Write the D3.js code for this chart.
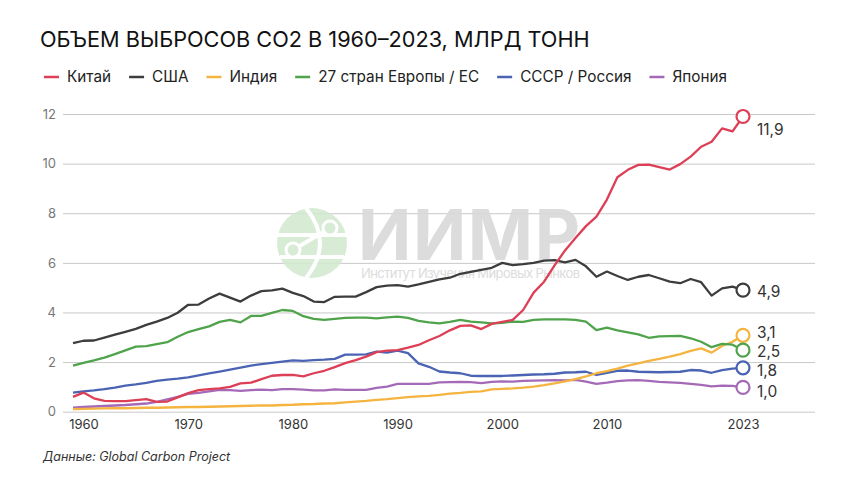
<!DOCTYPE html>
<html><head><meta charset="utf-8">
<script src="https://cdn.jsdelivr.net/npm/d3@7"></script>
<style>
html,body{margin:0;padding:0;background:#fff;}
svg{display:block;font-family:Inter,"Noto Sans",sans-serif;}
</style></head>
<body>
<svg id="chart" width="860" height="484"></svg>
<script>
const startYear = 1959;
const endYear = 2023;
const seriesNames = ["Китай","США","Индия","27 стран Европы / ЕС","СССР / Россия","Япония"];
const seriesColors = ["#dc3f56","#3d3d3d","#f5b43f","#4fa34b","#4a63b3","#a56ab7"];

const china = [0.60,0.77,0.54,0.44,0.43,0.43,0.47,0.51,0.40,0.41,0.58,0.75,0.87,0.91,0.94,1.00,1.14,1.17,1.31,1.45,1.48,1.48,1.42,1.55,1.65,1.80,1.96,2.08,2.22,2.40,2.46,2.48,2.58,2.69,2.88,3.05,3.28,3.46,3.48,3.33,3.54,3.62,3.70,4.10,4.80,5.24,5.90,6.50,7.00,7.48,7.86,8.55,9.45,9.75,9.95,9.96,9.86,9.76,9.98,10.28,10.68,10.88,11.42,11.30,11.90];
const usa = [2.76,2.86,2.87,2.99,3.11,3.22,3.34,3.50,3.63,3.78,3.99,4.31,4.32,4.56,4.76,4.60,4.44,4.68,4.86,4.89,4.96,4.79,4.66,4.44,4.42,4.63,4.64,4.64,4.82,5.02,5.08,5.10,5.04,5.13,5.23,5.33,5.40,5.56,5.64,5.72,5.80,6.00,5.91,5.95,6.00,6.09,6.11,6.02,6.12,5.86,5.44,5.65,5.47,5.31,5.44,5.51,5.38,5.24,5.18,5.35,5.22,4.68,4.97,5.04,4.90];
const india = [0.10,0.11,0.12,0.13,0.14,0.14,0.15,0.16,0.16,0.17,0.18,0.19,0.19,0.20,0.21,0.22,0.23,0.24,0.25,0.25,0.27,0.28,0.30,0.31,0.33,0.34,0.38,0.41,0.44,0.48,0.51,0.55,0.59,0.62,0.64,0.68,0.73,0.76,0.80,0.82,0.90,0.92,0.94,0.97,1.01,1.07,1.14,1.22,1.31,1.42,1.55,1.64,1.74,1.86,1.95,2.05,2.13,2.22,2.32,2.45,2.55,2.38,2.65,2.82,3.08];
const eu27 = [1.86,1.97,2.07,2.18,2.32,2.47,2.62,2.64,2.72,2.80,3.02,3.21,3.33,3.44,3.62,3.70,3.60,3.86,3.86,3.98,4.10,4.06,3.85,3.74,3.70,3.74,3.78,3.79,3.79,3.76,3.80,3.83,3.78,3.66,3.60,3.56,3.62,3.70,3.63,3.60,3.56,3.58,3.63,3.62,3.70,3.72,3.72,3.72,3.70,3.63,3.29,3.39,3.28,3.20,3.12,2.98,3.04,3.05,3.06,2.96,2.82,2.60,2.73,2.70,2.48];
const russia = [0.77,0.82,0.86,0.91,0.97,1.05,1.10,1.16,1.24,1.29,1.33,1.38,1.46,1.54,1.62,1.70,1.78,1.86,1.92,1.97,2.02,2.07,2.05,2.08,2.10,2.13,2.30,2.30,2.31,2.42,2.38,2.46,2.36,1.95,1.81,1.62,1.58,1.55,1.45,1.44,1.44,1.44,1.46,1.48,1.50,1.51,1.53,1.58,1.59,1.61,1.48,1.57,1.65,1.66,1.61,1.60,1.59,1.60,1.61,1.68,1.66,1.57,1.68,1.74,1.77];
const japan = [0.16,0.19,0.21,0.23,0.25,0.27,0.30,0.33,0.40,0.50,0.60,0.72,0.76,0.82,0.88,0.87,0.84,0.87,0.89,0.87,0.91,0.91,0.89,0.86,0.86,0.90,0.88,0.88,0.88,0.96,1.01,1.12,1.12,1.12,1.12,1.18,1.19,1.20,1.19,1.15,1.20,1.22,1.21,1.24,1.25,1.26,1.27,1.26,1.28,1.21,1.12,1.17,1.23,1.26,1.27,1.24,1.20,1.18,1.16,1.12,1.08,1.02,1.05,1.04,0.98];
const endLabels = ["11,9","4,9","3,1","2,5","1,8","1,0"];
const labelDy = [13,1,-3,1,3,4];
const yTicks = [0,2,4,6,8,10,12];
const xTicks = [1960,1970,1980,1990,2000,2010,2023];

const allSeries = [china, usa, india, eu27, russia, japan];
const years = d3.range(startYear, endYear + 1);

const svg = d3.select("#chart");
const x = d3.scaleLinear().domain([startYear, endYear]).range([73, 743]);
const y = d3.scaleLinear().domain([0, 12]).range([411.7, 114]);

// title
svg.append("text").attr("x", 40).attr("y", 46.5)
  .attr("font-size", 21.7).attr("fill", "#111").attr("font-weight", 400)
  .text("ОБЪЕМ ВЫБРОСОВ СО2 В 1960–2023, МЛРД ТОНН");

// legend
const leg = svg.append("g");
let lx = 44;
seriesNames.forEach((n, i) => {
  leg.append("line").attr("x1", lx).attr("x2", lx + 15).attr("y1", 77).attr("y2", 77)
    .attr("stroke", seriesColors[i]).attr("stroke-width", 2.5);
  const t = leg.append("text").attr("x", lx + 23).attr("y", 82).attr("font-size", 15.3)
    .attr("fill", "#222").text(n);
  lx = lx + 23 + t.node().getComputedTextLength() + 18;
});

// grid + y axis
const yAxis = d3.axisLeft(y).tickValues(yTicks).tickSize(-(815 - 63)).tickPadding(7).tickFormat(d3.format("d"));
const gy = svg.append("g").attr("transform", "translate(63,0)").call(yAxis);
gy.select(".domain").remove();
gy.selectAll(".tick line").attr("stroke", "#c8c8c8").attr("stroke-width", 1);
gy.selectAll(".tick text").attr("fill", "#777").attr("font-size", 13).attr("font-family", "Inter,sans-serif");

// watermark
const wm = svg.append("g").attr("opacity", 0.9);
const gcx = 312, gcy = 243, gr = 35;
wm.append("circle").attr("cx", gcx).attr("cy", gcy).attr("r", gr).attr("fill", "#d3e9d1");
wm.append("path").attr("d", `M${gcx-6},${gcy-gr} Q${gcx+22},${gcy} ${gcx-6},${gcy+gr}`).attr("fill","none").attr("stroke","#fff").attr("stroke-width",4);
wm.append("path").attr("d", `M${gcx-gr},${gcy-8} L${gcx+gr},${gcy-8}`).attr("stroke","#fff").attr("stroke-width",4);
wm.append("path").attr("d", `M${gcx-gr+3},${gcy+14} L${gcx+gr-3},${gcy+14}`).attr("stroke","#fff").attr("stroke-width",4);
wm.append("path").attr("d", `M${gcx-19},${gcy+7} L${gcx+18},${gcy-15}`).attr("stroke","#fff").attr("stroke-width",4);
wm.append("circle").attr("cx", gcx+18).attr("cy", gcy-15).attr("r", 7).attr("fill","#d3e9d1").attr("stroke","#fff").attr("stroke-width",3);
wm.append("circle").attr("cx", gcx-19).attr("cy", gcy+7).attr("r", 7).attr("fill","#d3e9d1").attr("stroke","#fff").attr("stroke-width",3);
wm.append("text").attr("x", 358).attr("y", 260).attr("font-size", 70).attr("font-weight", 700)
  .attr("font-family", "Inter,sans-serif").attr("fill", "#d9d9d9").attr("textLength", 222).text("ИИМР");
wm.append("text").attr("x", 361).attr("y", 278).attr("font-size", 13)
  .attr("font-family", "Inter,sans-serif").attr("fill", "#d9d9d9").attr("textLength", 219).text("Институт Изучения Мировых Рынков");

// x axis
const xAxis = d3.axisBottom(x).tickValues(xTicks).tickSize(0).tickPadding(8).tickFormat(d3.format("d"));
const gx = svg.append("g").attr("transform", `translate(0,${y(0)})`).call(xAxis);
gx.select(".domain").remove();
gx.selectAll(".tick text").attr("fill", "#333").attr("font-size", 13).attr("font-family", "Inter,sans-serif");

// lines
const line = d3.line().x((d, i) => x(years[i])).y(d => y(d));
const order = [5, 4, 2, 3, 1, 0];
order.forEach(i => {
  svg.append("path").datum(allSeries[i]).attr("d", line)
    .attr("fill", "none").attr("stroke", seriesColors[i]).attr("stroke-width", 2.3)
    .attr("stroke-linejoin", "round");
});

// end markers and labels
allSeries.forEach((s, i) => {
  const v = s[s.length - 1];
  svg.append("circle").attr("cx", x(endYear)).attr("cy", y(v)).attr("r", 6.5)
    .attr("fill", "#fff").attr("stroke", seriesColors[i]).attr("stroke-width", 2.2);
  svg.append("text").attr("x", 757).attr("y", y(v) + labelDy[i]).attr("dy", "0.35em")
    .attr("font-size", 15.5).attr("fill", "#333").text(endLabels[i]);
});

// source
svg.append("text").attr("x", 43).attr("y", 461).attr("font-size", 12.5).attr("font-style", "italic")
  .attr("fill", "#333").text("Данные: Global Carbon Project");
</script>
</body></html>
